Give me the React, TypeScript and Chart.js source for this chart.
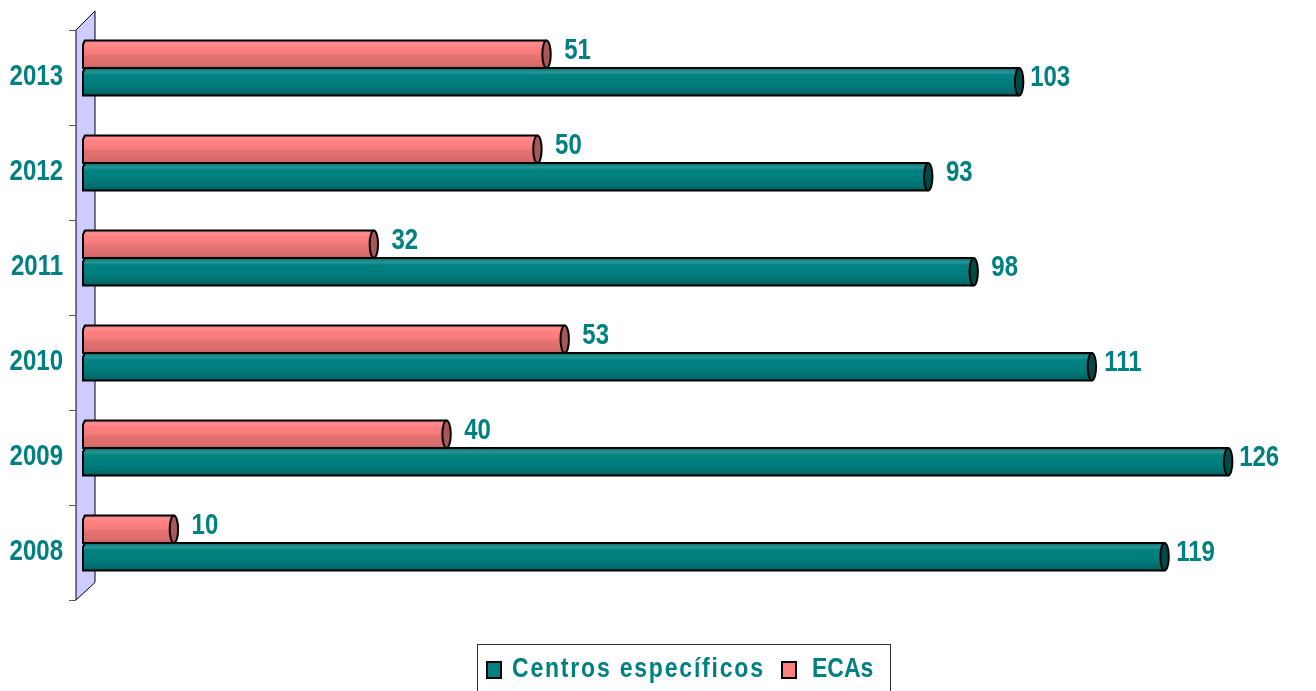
import React, { useEffect, useRef } from 'react';
import { Chart, registerables } from 'chart.js';
Chart.register(...registerables);

const years = ['2013', '2012', '2011', '2010', '2009', '2008'];
const centros = [103, 93, 98, 111, 126, 119];
const ecas = [51, 50, 32, 53, 40, 10];
const seriesNames = ['Centros específicos', 'ECAs'];

const TEAL = '#008080';
const PINK = '#FF8080';
const FONT = '"Liberation Sans", Arial, sans-serif';

function tallText(ctx: any, text: string, x: number, y: number, size: number, sy: number, align: string) {
  ctx.save();
  ctx.translate(x, y);
  ctx.scale(1, sy);
  ctx.font = 'bold ' + size + 'px ' + FONT;
  ctx.textAlign = align;
  ctx.textBaseline = 'middle';
  ctx.fillStyle = TEAL;
  ctx.fillText(text, 0, 0);
  ctx.restore();
}

const wallPlugin = {
  id: 'wall',
  beforeDatasetsDraw(chart: any) {
    const { ctx, chartArea } = chart;
    const { left, top, bottom } = chartArea;
    const n = years.length;
    const catH = (bottom - top) / n;
    const fx = left - 7, bx = left + 12;
    const ft = top + 9.5, fb = bottom + 9.5;
    const bt = top - 9.5, bb = bottom - 8;
    ctx.save();
    ctx.beginPath();
    ctx.moveTo(fx, ft);
    ctx.lineTo(bx, bt);
    ctx.lineTo(bx, bb);
    ctx.lineTo(fx, fb);
    ctx.closePath();
    ctx.fillStyle = '#CCCCFF';
    ctx.fill();
    ctx.lineWidth = 1;
    ctx.strokeStyle = '#000';
    ctx.stroke();
    ctx.strokeStyle = '#555';
    for (let i = 0; i <= n; i++) {
      const y = Math.round(top + i * catH + 9.5) + 0.5;
      ctx.beginPath();
      ctx.moveTo(fx - 7, y);
      ctx.lineTo(fx, y);
      ctx.stroke();
    }
    const ys = chart.scales.y;
    years.forEach((lab, i) => {
      tallText(ctx, lab, fx - 13, ys.getPixelForValue(i) + 9, 24, 1.22, 'right');
    });
    ctx.restore();
  },
};

const cylPlugin = {
  id: 'cyl',
  afterDatasetsDraw(chart: any) {
    const ctx = chart.ctx;
    ctx.save();
    chart.data.datasets.forEach((ds: any, di: number) => {
      const meta = chart.getDatasetMeta(di);
      const isPink = di === 0;
      meta.data.forEach((el: any, i: number) => {
        const { x, y, base, height } = el.getProps(['x', 'y', 'base', 'height'], true);
        const h = height;
        const t = y - h / 2, b = y + h / 2;
        const g = ctx.createLinearGradient(0, t, 0, b);
        if (isPink) {
          g.addColorStop(0, '#F47A7A');
          g.addColorStop(0.12, '#FF9090');
          g.addColorStop(0.22, '#FF8080');
          g.addColorStop(0.48, '#F67C7C');
          g.addColorStop(0.55, '#E47272');
          g.addColorStop(0.85, '#DC6D6D');
          g.addColorStop(1, '#C86060');
        } else {
          g.addColorStop(0, '#007070');
          g.addColorStop(0.15, '#2A9595');
          g.addColorStop(0.26, '#008282');
          g.addColorStop(0.6, '#007C7C');
          g.addColorStop(0.85, '#006E6E');
          g.addColorStop(1, '#005C5C');
        }
        ctx.fillStyle = g;
        ctx.fillRect(base, t, x - base, h);
        ctx.lineWidth = 2;
        ctx.strokeStyle = '#000';
        ctx.beginPath();
        ctx.moveTo(x, t);
        ctx.lineTo(base + 2, t);
        ctx.lineTo(base, t + 4);
        ctx.lineTo(base, b);
        ctx.lineTo(x, b);
        ctx.stroke();
        ctx.beginPath();
        ctx.ellipse(x, y, 4.2, h / 2, 0, 0, Math.PI * 2);
        ctx.fillStyle = isPink ? '#A85858' : '#004A4A';
        ctx.fill();
        ctx.stroke();
        tallText(ctx, String(ds.data[i]), x + 31, y - 3.5, 24, 1.2, 'center');
      });
    });
    ctx.restore();
  },
};

const legendPlugin = {
  id: 'boxLegend',
  afterDraw(chart: any) {
    const ctx = chart.ctx;
    ctx.save();
    ctx.strokeStyle = '#333';
    ctx.lineWidth = 1;
    ctx.strokeRect(477.5, 644.5, 413, 60);
    ctx.lineWidth = 2;
    ctx.strokeStyle = '#000';
    ctx.fillStyle = TEAL;
    ctx.fillRect(487, 662, 14, 16);
    ctx.strokeRect(487, 662, 14, 16);
    ctx.fillStyle = PINK;
    ctx.fillRect(782, 662, 14, 16);
    ctx.strokeRect(782, 662, 14, 16);
    ctx.fillStyle = TEAL;
    ctx.font = 'bold 23px ' + FONT;
    ctx.textAlign = 'left';
    ctx.textBaseline = 'alphabetic';
    ctx.translate(0, 677);
    ctx.scale(1, 1.17);
    (ctx as any).letterSpacing = '1.8px';
    ctx.fillText(seriesNames[0], 512, 0);
    (ctx as any).letterSpacing = '0px';
    ctx.fillText(seriesNames[1], 812, 0);
    ctx.restore();
  },
};

export default function App() {
  const ref = useRef<HTMLCanvasElement | null>(null);
  useEffect(() => {
    document.body.style.margin = '0';
    const chart = new Chart(ref.current as HTMLCanvasElement, {
      type: 'bar',
      data: {
        labels: years,
        datasets: [
          { label: seriesNames[1], data: ecas, backgroundColor: PINK, borderWidth: 0 },
          { label: seriesNames[0], data: centros, backgroundColor: TEAL, borderWidth: 0 },
        ],
      },
      options: {
        indexAxis: 'y',
        animation: false,
        responsive: true,
        maintainAspectRatio: false,
        datasets: { bar: { categoryPercentage: 0.579, barPercentage: 1 } },
        layout: { padding: { left: 0, right: 6, top: 20.5, bottom: 100.5 } },
        plugins: { legend: { display: false }, tooltip: { enabled: false } },
        scales: {
          x: { display: false, min: 0, max: 135 },
          y: {
            grid: { display: false, drawTicks: false },
            border: { display: false },
            ticks: { display: false },
            afterFit: (s: any) => { s.width = 83; s.paddingTop = 0; s.paddingBottom = 0; },
          },
        },
      },
      plugins: [wallPlugin, cylPlugin, legendPlugin],
    } as any);
    return () => chart.destroy();
  }, []);
  return (
    <div style={{ position: 'absolute', left: 0, top: 0, width: 1316, height: 691, background: '#fff' }}>
      <canvas ref={ref} />
    </div>
  );
}
